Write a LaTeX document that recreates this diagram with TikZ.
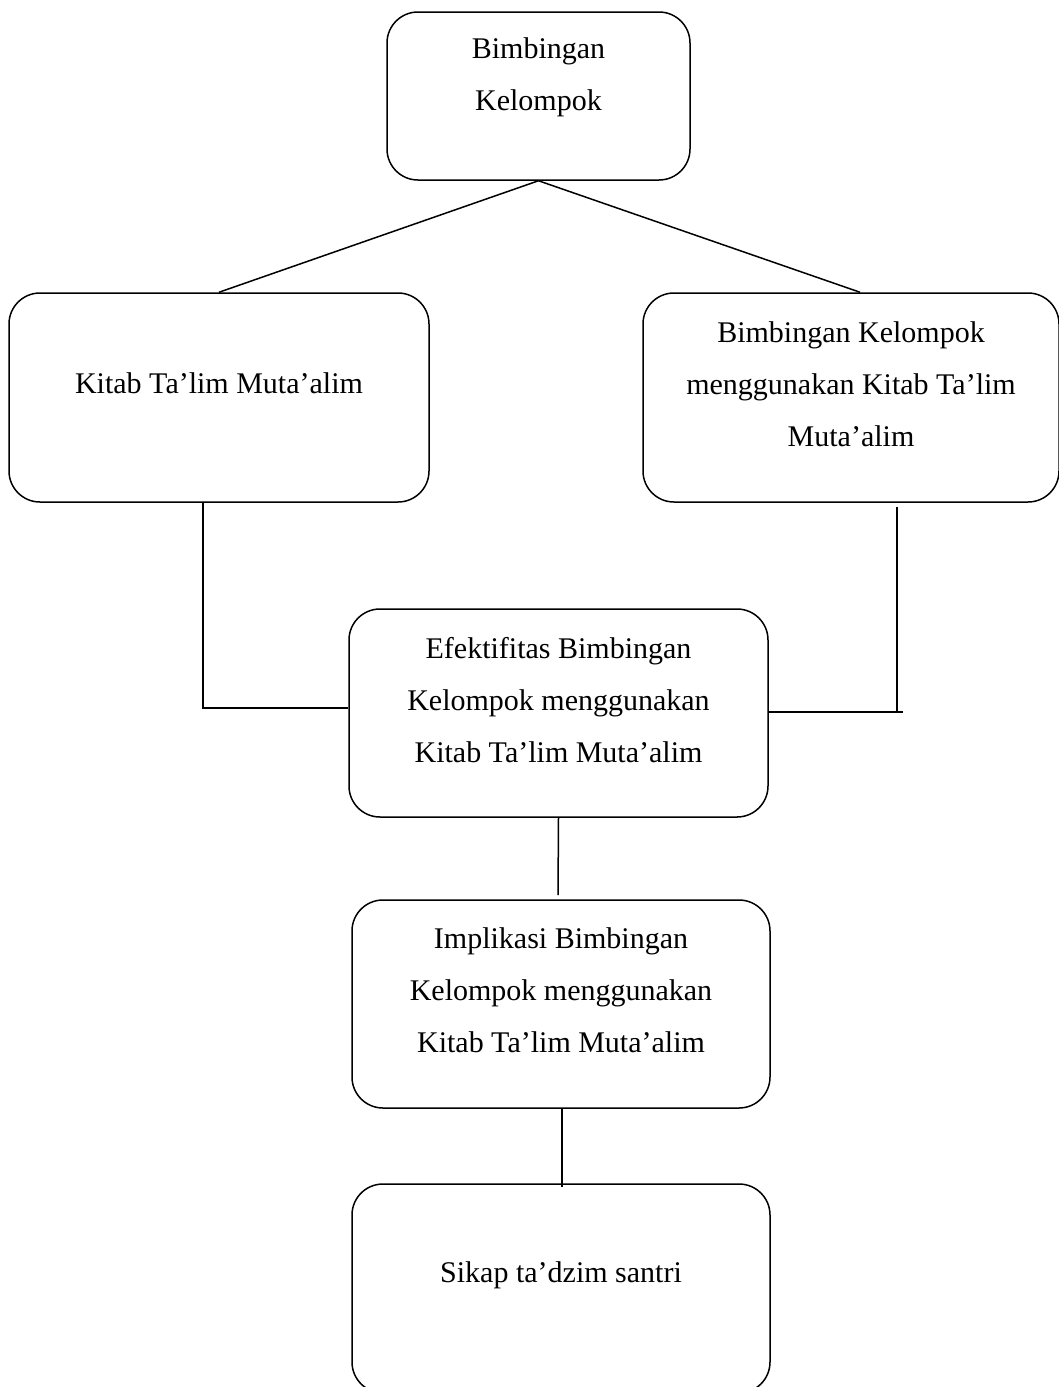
\documentclass[tikz,border=0pt]{standalone}
\usepackage{fontspec}
\setmainfont{Liberation Serif}
\begin{document}
\begin{tikzpicture}[x=1pt,y=-1pt,
  box/.style={draw,line width=1.5pt,rounded corners=31pt,rectangle,inner sep=0pt},
  txt/.style={font=\fontsize{30}{52}\selectfont,align=center,inner sep=0pt},
  conn/.style={line width=1.5pt}]
\useasboundingbox (0,0) rectangle (1059,1387);
% boxes
\node[box,minimum width=303pt,minimum height=168pt] (b1) at (538.5,96) {};
\node[box,minimum width=420pt,minimum height=209pt] (b2) at (219,397.5) {};
\node[box,minimum width=416pt,minimum height=209pt] (b3) at (851,397.5) {};
\node[box,minimum width=419pt,minimum height=208pt] (b4) at (558.5,713) {};
\node[box,minimum width=418pt,minimum height=208pt] (b5) at (561,1004) {};
\node[box,minimum width=418pt,minimum height=209pt] (b6) at (561,1288.5) {};
% texts
\node[txt,anchor=north] (t1) at (538.5,37) {Bimbingan\\Kelompok};
\node[txt,anchor=base] (t2) at (219,393) {Kitab Ta’lim Muta’alim};
\node[txt,anchor=north] (t3) at (851,321) {Bimbingan Kelompok\\menggunakan Kitab Ta’lim\\Muta’alim};
\node[txt,anchor=north] (t4) at (558.5,637) {Efektifitas Bimbingan\\Kelompok menggunakan\\Kitab Ta’lim Muta’alim};
\node[txt,anchor=north] (t5) at (561,927) {Implikasi Bimbingan\\Kelompok menggunakan\\Kitab Ta’lim Muta’alim};
\node[txt,anchor=base] (t6) at (561,1282) {Sikap ta’dzim santri};
% connectors
\draw[conn] (b1.south) -- (b2.north);
\draw[conn] (b1.south) -- ([xshift=9pt]b3.north);
\coordinate (l1) at (203,708);
\draw[conn] ([xshift=-16pt]b2.south) |- (b4.west |- l1);
\coordinate (r1) at (897,507);
\coordinate (r2) at (903,712);
\draw[conn] (r1) -- (r1 |- r2);
\draw[conn] (b4.east |- r2) -- (r2);
\coordinate (c1) at (558,895);
\draw[conn] (b4.south) -- (c1);
\coordinate (c2) at (562,1187);
\draw[conn] ([xshift=1pt]b5.south) -- (c2);
\end{tikzpicture}
\end{document}
